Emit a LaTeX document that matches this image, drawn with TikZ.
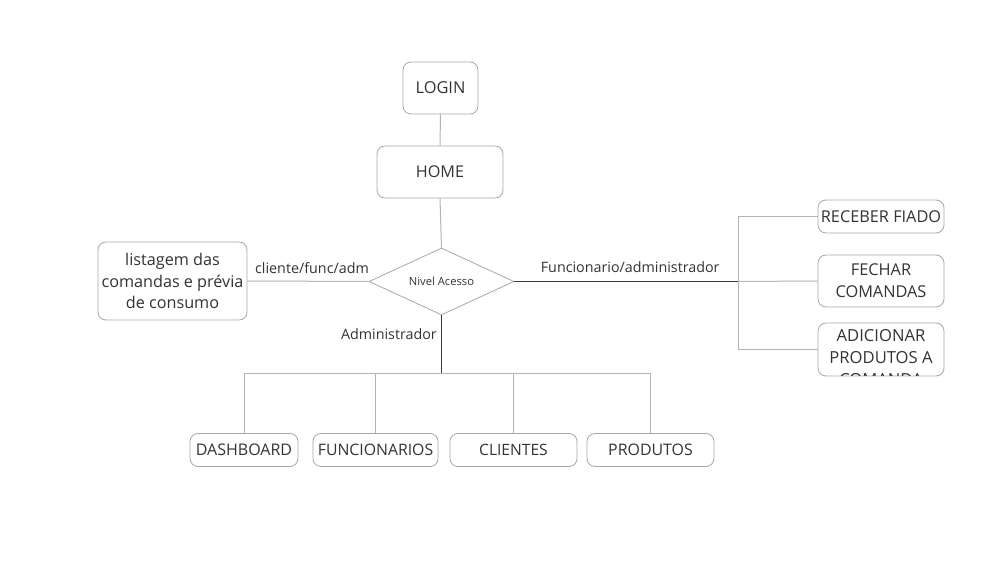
\documentclass[tikz,border=0pt]{standalone}
\usepackage{fontspec}
\setmainfont{Open Sans}
\usetikzlibrary{shapes.geometric}
\definecolor{boxline}{HTML}{A8A8A8}
\definecolor{thinline}{HTML}{B4B4B4}
\definecolor{darkline}{HTML}{3A3A3A}
\definecolor{txt}{HTML}{333333}
\begin{document}
\begin{tikzpicture}[x=1pt,y=-1pt,
  box/.style={draw=boxline,line width=0.8pt,rounded corners=8pt,inner sep=0pt,align=center,text=txt,font=\fontsize{16}{22}\selectfont},
  lite/.style={draw=thinline,line width=1pt},
  dark/.style={draw=darkline,line width=1.2pt},
  lbl/.style={text=txt,font=\fontsize{14.3}{17}\selectfont,inner sep=0pt}]
\useasboundingbox[fill=white] (0,0) rectangle (1002,577);
\node[box,minimum width=75pt,minimum height=52pt,font=\fontsize{16.4}{22}\selectfont] (login) at (440.5,88) {LOGIN};
\node[box,minimum width=126pt,minimum height=52pt,font=\fontsize{16.2}{22}\selectfont] (home) at (440,172) {HOME};
\node[draw=boxline,line width=0.8pt,diamond,aspect=2.16,inner sep=0pt,minimum width=145pt,minimum height=67pt,text=txt,font=\fontsize{11.2}{13}\selectfont] (dia) at (441.5,281.5) {Nivel Acesso};
\node[box,minimum width=149pt,minimum height=78pt,font=\fontsize{16.2}{21.5}\selectfont] (lista) at (172.5,281) {listagem das\\comandas e prévia\\de consumo};
\node[box,minimum width=126pt,minimum height=33pt,font=\fontsize{16.3}{22}\selectfont] (receb) at (881,216.5) {RECEBER FIADO};
\node[box,minimum width=126pt,minimum height=52pt,font=\fontsize{16.3}{22}\selectfont] (fech) at (881,281) {FECHAR\\COMANDAS};
\node[box,minimum width=126pt,minimum height=53pt] (adic) at (881,349.5) {};
\begin{scope}
\clip (818,323) rectangle (944,376);
\node[align=center,text=txt,font=\fontsize{16.6}{22}\selectfont,anchor=north,inner sep=0pt] (adictxt) at (881,329) {ADICIONAR\\PRODUTOS A\\COMANDA};
\end{scope}
\node[box,minimum width=108pt,minimum height=33pt] (dash) at (244,450) {DASHBOARD};
\node[box,minimum width=125pt,minimum height=33pt,font=\fontsize{15.8}{22}\selectfont] (func) at (375.5,450) {FUNCIONARIOS};
\node[box,minimum width=127pt,minimum height=33pt,font=\fontsize{15.6}{22}\selectfont] (cli) at (513.5,450) {CLIENTES};
\node[box,minimum width=127pt,minimum height=33pt,font=\fontsize{15.9}{22}\selectfont] (prod) at (650.5,450) {PRODUTOS};
\coordinate (jr) at (738,281.5);
\coordinate (jb) at (441.5,374);
\draw[lite] (login.south) -- (home.north);
\draw[lite] (home.south) -- (dia.north);
\draw[lite] (lista.east) -- (dia.west) node[lbl,midway,above=7pt,xshift=4pt] {cliente/func/adm};
\draw[dark] (dia.east) -- (jr) node[lbl,midway,above=8pt,xshift=4pt] {Funcionario/administrador};
\draw[lite] (jr) -- (fech.west);
\draw[lite] (receb.west) -| (jr);
\draw[lite] (jr) |- (adic.west);
\draw[dark] (dia.south) -- (jb);
\node[lbl,anchor=east] (admlbl) at (437,334) {Administrador};
\draw[lite] (jb) -| (dash.north);
\draw[lite] (jb) -| (func.north);
\draw[lite] (jb) -| (cli.north);
\draw[lite] (jb) -| (prod.north);
\end{tikzpicture}
\end{document}
